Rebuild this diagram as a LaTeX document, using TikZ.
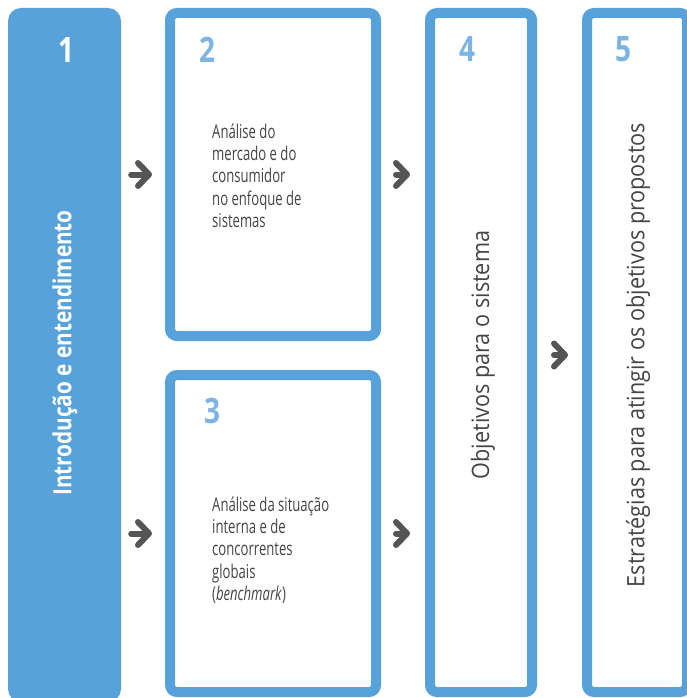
\documentclass[tikz,border=0pt]{standalone}
\usepackage{fontspec}
\setmainfont{Open Sans}
\newfontfamily\bodyfont[FakeStretch=0.69]{Open Sans}
\newfontfamily\sidefont[FakeStretch=0.9]{Open Sans}
\newfontfamily\sideboldfont[FakeStretch=0.83]{Open Sans}
\newfontfamily\numfont[FakeStretch=0.8]{Open Sans}
\usetikzlibrary{arrows.meta}
\definecolor{boxblue}{HTML}{57A2DA}
\definecolor{numblue}{HTML}{7CB4E4}
\definecolor{arrowgray}{HTML}{555555}
\definecolor{textgray}{HTML}{454545}
\begin{document}
\begin{tikzpicture}[x=1pt,y=-1pt,
  stepfilled/.style={fill=boxblue,rounded corners=13pt,inner sep=0pt,minimum width=113pt},
  stepbox/.style={draw=boxblue,line width=10pt,rounded corners=7pt,inner sep=0pt,fill=white},
  stepnum/.style={font=\numfont\bfseries\fontsize{35}{35}\selectfont,text=numblue,inner sep=0pt},
  bodytext/.style={font=\bodyfont\fontsize{19}{22.3}\selectfont,text=textgray,align=left,inner sep=0pt,anchor=base west},
  vertext/.style={font=\sidefont\fontsize{24}{28}\selectfont,text=textgray,rotate=90,inner sep=0pt},
  flowarrow/.style={draw=arrowgray,line width=6pt,line cap=round,
    -{Straight Barb[round,length=11pt,width=23pt]}}
]
\useasboundingbox (0,0) rectangle (686,698);

% the five steps
\node[stepfilled,minimum height=694pt] (b1) at (64.5,355) {};
\node[stepbox,minimum width=206pt,minimum height=323pt] (b2) at (273,174.5) {};
\node[stepbox,minimum width=206pt,minimum height=317pt] (b3) at (273,533.5) {};
\node[stepbox,minimum width=102pt,minimum height=679pt] (b4) at (481,352.5) {};
\node[stepbox,minimum width=100pt,minimum height=679pt] (b5) at (637,352.5) {};

% step numbers
\node[stepnum,text=white] (n1) at (66,50) {1};
\node[stepnum] (n2) at (207,50) {2};
\node[stepnum] (n3) at (212,411) {3};
\node[stepnum] (n4) at (467,49) {4};
\node[stepnum] (n5) at (623,49) {5};

% step texts
\node[vertext,text=white,font=\sideboldfont\bfseries\fontsize{25}{28}\selectfont] (t1) at (65,353) {Introdução e entendimento};
\node[bodytext] (t2) at (212,227.5) {Análise do\\mercado e do\\consumidor\\no enfoque de\\sistemas};
\node[bodytext] (t3) at (212,600.5) {Análise da situação\\interna e de\\concorrentes\\globais\\(\textit{benchmark})};
\node[vertext] (t4) at (483,355) {Objetivos para o sistema};
\node[vertext] (t5) at (638,355) {Estratégias para atingir os objetivos propostos};

% arrows between the steps
\draw[flowarrow,shorten <=10pt,shorten >=13pt] (b1.east |- b2.west) -- (b2.west);
\draw[flowarrow,shorten <=10pt,shorten >=13pt] (b1.east |- b3.west) -- (b3.west);
\draw[flowarrow,shorten <=15pt,shorten >=15pt] (b2.east) -- (b4.west |- b2.east);
\draw[flowarrow,shorten <=15pt,shorten >=15pt] (b3.east) -- (b4.west |- b3.east);
\draw[flowarrow,shorten <=17pt,shorten >=14pt] (b4.east |- b1.east) -- (b5.west |- b1.east);
\end{tikzpicture}
\end{document}
